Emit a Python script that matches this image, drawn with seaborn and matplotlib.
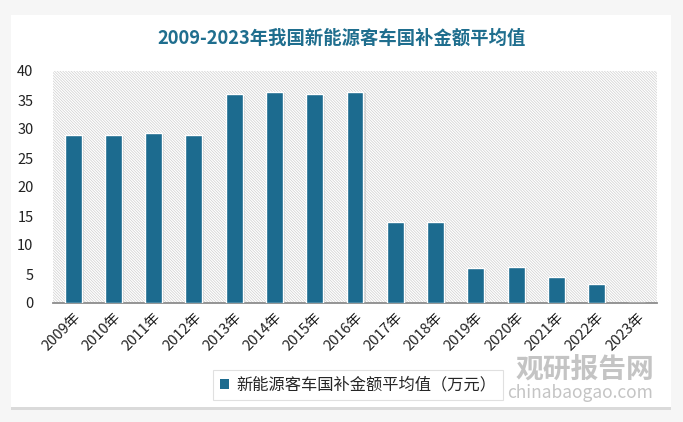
import numpy as np
import pandas as pd
import matplotlib
matplotlib.use("Agg")
import matplotlib.pyplot as plt
import seaborn as sns
from matplotlib import patheffects
from matplotlib.patches import FancyBboxPatch, Rectangle

# 数据
years = ["2009年", "2010年", "2011年", "2012年", "2013年", "2014年", "2015年", "2016年",
         "2017年", "2018年", "2019年", "2020年", "2021年", "2022年", "2023年"]
subsidy = [29.0, 29.0, 29.3, 29.0, 36.0, 36.4, 36.0, 36.4,
           14.0, 14.0, 6.0, 6.2, 4.4, 3.2, 0.0]
series_name = "新能源客车国补金额平均值（万元）"
title = "2009-2023年我国新能源客车国补金额平均值"

sns.set_theme(style="white")
plt.rcParams["font.family"] = ["Noto Sans CJK SC", "DejaVu Sans"]
plt.rcParams["axes.unicode_minus"] = False
plt.rcParams["hatch.linewidth"] = 0.5

BAR = "#1c6b8f"

fig = plt.figure(figsize=(6.83, 4.22), dpi=100)
fig.patch.set_facecolor("#f6f6f6")

# 卡片背景
card = FancyBboxPatch((0.016, 0.035), 0.966, 0.93, boxstyle="square,pad=0",
                      transform=fig.transFigure, facecolor="white", edgecolor="none",
                      zorder=-5)
card.set_path_effects([patheffects.SimplePatchShadow(offset=(0, -2), shadow_rgbFace="#c8c8c8", alpha=0.6),
                       patheffects.Normal()])
fig.patches.append(card)

ax = fig.add_axes([53 / 683, 1 - 303 / 422, 604 / 683, 232 / 422])
ax.set_facecolor("none")

# 斜线底纹
bg = Rectangle((0, 0), 1, 1, transform=ax.transAxes, facecolor="white",
               edgecolor="#cfcfcf", linewidth=0, hatch="\\" * 12, zorder=0)
ax.add_patch(bg)

df = pd.DataFrame({"year": years, "value": subsidy})
sns.barplot(data=df, x="year", y="value", color=BAR, width=0.42, ax=ax,
            saturation=1, edgecolor="white", linewidth=1.0, zorder=3)
for p in ax.patches:
    if p is bg:
        continue
    p.set_path_effects([patheffects.SimplePatchShadow(offset=(1.5, -1), shadow_rgbFace="#a0a0a0", alpha=0.35),
                        patheffects.Normal()])

ax.set_xlim(-0.5, len(years) - 0.5)
ax.set_ylim(0, 40)
ax.set_yticks(np.arange(0, 41, 5))
ax.set_xlabel("")
ax.set_ylabel("")
for s in ["top", "right", "left"]:
    ax.spines[s].set_visible(False)
ax.spines["bottom"].set_color("#8c8c8c")
ax.spines["bottom"].set_linewidth(1.3)
ax.tick_params(axis="y", length=0, labelsize=10.5, colors="#222222", pad=14)
ax.tick_params(axis="x", length=0, labelsize=10.5, colors="#222222", pad=5)
for lab in ax.get_xticklabels():
    lab.set_rotation(45)
    lab.set_ha("right")
    lab.set_rotation_mode("anchor")

fig.text(0.5, 1 - 38 / 422, title, ha="center", va="center", fontsize=13.2,
         fontweight="bold", color="#1f6e8e")

# 图例
handle = Rectangle((0, 0), 1, 1, facecolor=BAR, edgecolor="none")
leg = fig.legend([handle], [series_name], loc="center", bbox_to_anchor=(358 / 683, 1 - 385 / 422),
                 frameon=True, fancybox=False, fontsize=11.7, handlelength=0.55, handleheight=0.55,
                 handletextpad=0.45, borderpad=0.4)
leg.get_frame().set_edgecolor("#d9d9d9")
leg.get_frame().set_linewidth(0.8)

# 水印
fig.text(585 / 683, 1 - 370 / 422, "观研报告网", ha="center", va="center", fontsize=20,
         fontweight="bold", color="#c4c4c4", zorder=5)
fig.text(580 / 683, 1 - 393 / 422, "chinabaogao.com", ha="center", va="center", fontsize=12.5,
         color="#c4c4c4", zorder=5)

fig.savefig("out.png", dpi=100, facecolor=fig.get_facecolor())
